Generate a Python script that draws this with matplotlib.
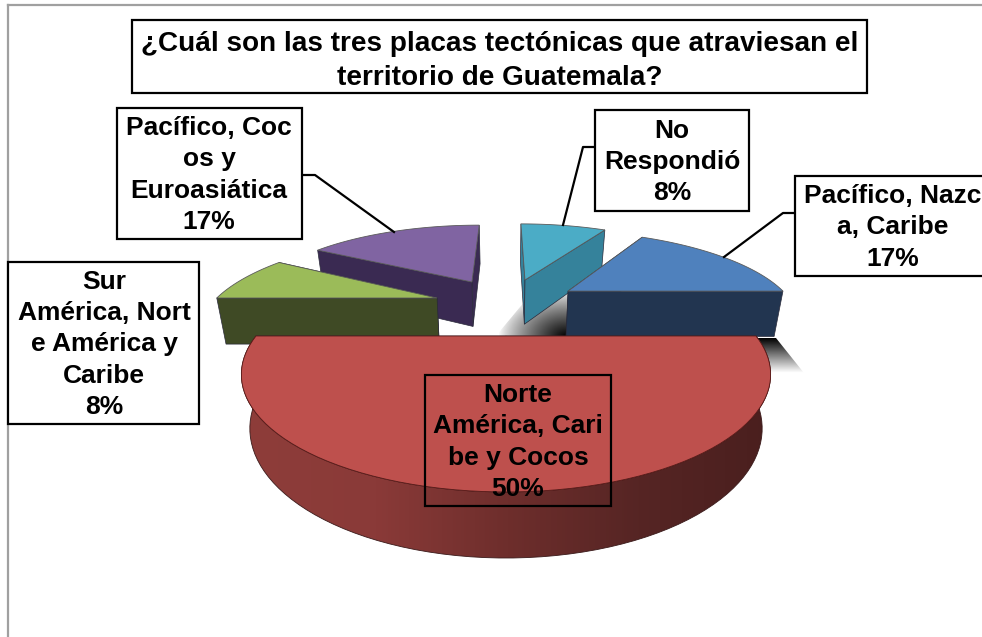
import numpy as np
import matplotlib
matplotlib.use('Agg')
import matplotlib.pyplot as plt
from matplotlib.colors import LinearSegmentedColormap
from matplotlib.patches import Polygon, Rectangle

plt.rcParams['font.family'] = ['Liberation Sans', 'DejaVu Sans']

# ================= datos =================
titulo = '¿Cuál son las tres placas tectónicas que atraviesan el\nterritorio de Guatemala?'
categorias = ['Norte\nAmérica, Cari\nbe y Cocos',
              'Sur\nAmérica, Nort\ne América y\nCaribe',
              'Pacífico, Coc\nos y\nEuroasiática',
              'No\nRespondió',
              'Pacífico, Nazc\na, Caribe']
valores = [50, 8.33, 16.67, 8.33, 16.67]

# ================= estilo =================
color_arriba = ['#BE504D', '#9BBB59', '#8064A2', '#4BACC6', '#4F81BD']
color_lado = ['#6B2A28', '#3F4A25', '#3A2A52', '#35829B', '#223550']
# separacion de cada porcion (en radios del pastel)
separacion = [(0, 0), (-0.313, -0.4115), (-0.164, -0.62), (0.092, -0.648), (0.289, -0.4986)]
orden = [2, 3, 1, 4, 0]
# cajas: x0, y0, x1, y1 en pixeles
cajas = [(425, 375, 611, 506), (8, 262, 199, 424), (117, 108, 302, 239),
         (595, 110, 749, 211), (795, 176, 1000, 276)]
centro_texto = [518, 104, 209, 672, 893]
# lineas guia
guias = [None, None,
         [(302, 175), (315, 175), (394, 232)],
         [(595, 147), (583, 147), (563, 225)],
         [(795, 213), (783, 213), (724, 257)]]

# perspectiva del pastel
CX, K = 506, 0.328
ARRIBA = (250, 104.8, 336)
ABAJO = (242, 115.6, 386)


def proyecta(X, Y, plano):
    B, A, y0 = plano
    w = 1 - K * Y
    return np.column_stack([CX + B * X / w, y0 + A * Y / w])


def borde(a0, a1, dx, dy):
    # arco de una porcion, en coordenadas del plano
    t = np.radians(np.linspace(a0, a1, 80))
    return np.cos(t) + dx, -np.sin(t) + dy


def sombra(ax, poligono, alfa, extent, z):
    img = np.zeros(alfa.shape + (4,))
    img[..., 3] = alfa
    im = ax.imshow(img, extent=extent, zorder=z, aspect='auto', interpolation='bilinear')
    parche = Polygon(poligono, closed=True, transform=ax.transData, fc='none', ec='none')
    ax.add_patch(parche)
    im.set_clip_path(parche)


fig = plt.figure(figsize=(9.82, 6.37), dpi=100)
ax = fig.add_axes([0, 0, 1, 1])

# sombras detras de las porciones
yy, xx = np.mgrid[270:340, 490:575]
dist = np.hypot((xx - 566) / 68, (yy - 336) / 46)
sombra(ax, [(495, 337), (570, 337), (570, 280), (530, 295)],
       np.clip(1 - dist, 0, 1) ** 0.8, (490, 575, 340, 270), 1)
alfa = np.linspace(1, 0, 40)[:, None] * np.ones((40, 50))
sombra(ax, [(755, 338), (776, 338), (804, 373), (765, 373)], alfa, (750, 810, 373, 338), 1)

# porciones
inicio = 0
angulos = []
for v in valores:
    angulos.append((inicio, inicio - v / sum(valores) * 360))
    inicio = angulos[-1][1]

for z, i in enumerate(orden):
    a0, a1 = angulos[i]
    dx, dy = separacion[i]
    z = 2 + z
    X, Y = borde(a0, a1, dx, dy)
    arc_up = proyecta(X, Y, ARRIBA)
    arc_dn = proyecta(X, Y, ABAJO)
    ap_up = proyecta(np.array([dx]), np.array([dy]), ARRIBA)
    ap_dn = proyecta(np.array([dx]), np.array([dy]), ABAJO)
    # caras laterales de los dos cortes, primero la de mas atras
    for extremo in sorted((0, -1), key=lambda e: arc_dn[e][1]):
        lado = [ap_up[0], arc_up[extremo], arc_dn[extremo], ap_dn[0]]
        ax.add_patch(Polygon(lado, closed=True, fc=color_lado[i], ec='#2a2a3a', lw=0.5, zorder=z))
    # pared exterior, solo la que mira al frente
    if i == 0:
        pared = np.vstack([arc_up, arc_dn[::-1]])
        cmap = LinearSegmentedColormap.from_list('pared', ['#8E3D3A', '#8A3A38', '#6E2E2C', '#562524', '#4A1F1E'])
        grad = np.linspace(0, 1, 256)[None, :]
        im = ax.imshow(grad, extent=(245, 770, 570, 330), cmap=cmap, aspect='auto', zorder=z)
        p = Polygon(pared, closed=True, transform=ax.transData, fc='none', ec='#3a1a1a', lw=0.6, zorder=z)
        ax.add_patch(p)
        im.set_clip_path(p)
    cara = np.vstack([ap_up, arc_up])
    borde_cara = '#5a1a18' if i == 0 else '#5a5a5a'
    ax.add_patch(Polygon(cara, closed=True, fc=color_arriba[i], ec=borde_cara, lw=0.6, zorder=z + 0.5))

# marco gris
ax.plot([8, 8], [637, 5], color='#A0A0A0', lw=1.6, zorder=1)
ax.plot([8, 982], [5, 5], color='#A0A0A0', lw=1.6, zorder=1)

# lineas guia y cajas
for g in guias:
    if g:
        ax.plot([q[0] for q in g], [q[1] for q in g], color='black', lw=1.6, zorder=10)

for i, c in enumerate(categorias):
    x0, y0, x1, y1 = cajas[i]
    fondo = 'none' if i == 0 else 'white'
    ax.add_patch(Rectangle((x0, y0), x1 - x0, y1 - y0, fc=fondo, ec='black', lw=1.6, zorder=11))
    ax.text(centro_texto[i], (y0 + y1) / 2 + 1.5, f'{c}\n{valores[i]:.0f}%', ha='center', va='center',
            ma='center', fontsize=19, fontweight='bold', linespacing=1.39, zorder=12)

ax.add_patch(Rectangle((132, 20), 735, 73, fc='white', ec='black', lw=1.6, zorder=11))
ax.text(499.5, 61, titulo, ha='center', va='center', ma='center', fontsize=20.1,
        fontweight='bold', linespacing=1.37, zorder=12)

ax.set_xlim(0, 982)
ax.set_ylim(637, 0)
ax.axis('off')
fig.savefig('out.png', dpi=100)
